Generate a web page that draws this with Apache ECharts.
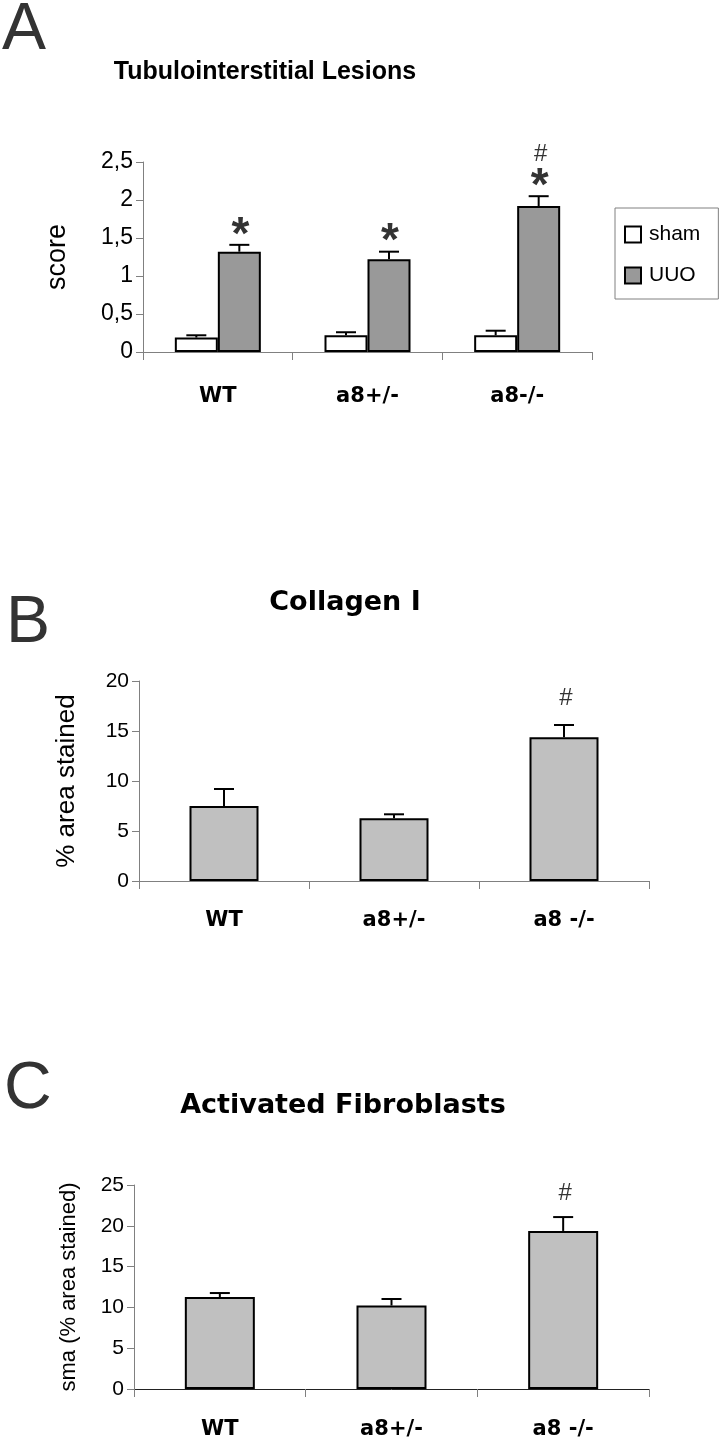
<!DOCTYPE html>
<html>
<head>
<meta charset="utf-8">
<title>Tubulointerstitial lesions, collagen I, activated fibroblasts</title>
<script src="https://cdn.jsdelivr.net/npm/echarts@6/dist/echarts.min.js"></script>
<style>
  html, body { margin: 0; padding: 0; background: #fff; }
  #chart_example { width: 725px; height: 1446px; }
</style>
</head>
<body>
<div id="chart_example"></div>
<script>
// ---- panel A : tubulointerstitial lesion score ----
var groupsA = ['WT', 'a8+/-', 'a8-/-'];
var shamMean = [0.19, 0.22, 0.22];
var shamSem = [0.03, 0.04, 0.06];
var uuoMean = [1.32, 1.22, 1.92];
var uuoSem = [0.09, 0.10, 0.13];
var uuoStar = ['*', '*', '*'];
var uuoHash = ['', '', '#'];
var ticksA = [0, 0.5, 1, 1.5, 2, 2.5];

// ---- panel B : collagen I ----
var groupsB = ['WT', 'a8+/-', 'a8 -/-'];
var collMean = [7.5, 6.27, 14.37];
var collSem = [1.7, 0.4, 1.23];
var collHash = ['', '', '#'];
var ticksB = [0, 5, 10, 15, 20];

// ---- panel C : activated fibroblasts ----
var groupsC = ['WT', 'a8+/-', 'a8 -/-'];
var smaMean = [11.26, 10.23, 19.37];
var smaSem = [0.5, 0.8, 1.7];
var smaHash = ['', '', '#'];
var ticksC = [0, 5, 10, 15, 20, 25];

var AXIS_GREY = '#808080';
var SANS = 'Liberation Sans, Arial, sans-serif';
var WIDE = 'DejaVu Sans, Verdana, sans-serif';

function xAxisFor(idx, cats, margin, lineColor) {
  return {
    type: 'category', gridIndex: idx, data: cats, boundaryGap: true,
    axisLine: { lineStyle: { color: lineColor, width: 1 } },
    axisTick: { show: true, length: 8, lineStyle: { color: AXIS_GREY } },
    axisLabel: { color: '#000', fontFamily: WIDE, fontWeight: 'bold', fontSize: 21, margin: margin }
  };
}

function yAxisFor(idx, ticks, labelSize, name, nameGap, nameSize, comma) {
  return {
    type: 'value', gridIndex: idx,
    min: ticks[0], max: ticks[ticks.length - 1], interval: ticks[1] - ticks[0],
    axisLine: { show: true, lineStyle: { color: AXIS_GREY, width: 1 } },
    axisTick: { show: true, length: 7, lineStyle: { color: AXIS_GREY } },
    splitLine: { show: false },
    axisLabel: {
      color: '#000', fontFamily: SANS, fontSize: labelSize, margin: 10,
      formatter: function (v) { return comma ? String(v).replace('.', ',') : String(v); }
    },
    name: name, nameLocation: 'middle', nameGap: nameGap,
    nameTextStyle: { color: '#000', fontFamily: SANS, fontSize: nameSize }
  };
}

// error bar (upper half only) + significance marks, drawn through the axis scales
function errorBars(idx, means, sems, offset, stars, hashes, hashGap) {
  return {
    type: 'custom', xAxisIndex: idx, yAxisIndex: idx, z: 10, silent: true,
    data: means.map(function (m, i) { return [i, m, sems[i]]; }),
    encode: { x: 0, y: 1 },
    renderItem: function (params, api) {
      var i = api.value(0), m = api.value(1), s = api.value(2);
      var base = api.coord([i, m]);
      var top = api.coord([i, m + s]);
      var x = base[0] + offset;
      var kids = [
        { type: 'line', shape: { x1: x, y1: base[1], x2: x, y2: top[1] }, style: { stroke: '#000', lineWidth: 2 } },
        { type: 'line', shape: { x1: x - 10, y1: top[1], x2: x + 10, y2: top[1] }, style: { stroke: '#000', lineWidth: 2 } }
      ];
      var k = params.dataIndex;
      if (stars && stars[k]) {
        kids.push({ type: 'text', style: { text: stars[k], x: x + 1, y: top[1] - 9, fill: '#333',
          font: 'bold 46px ' + SANS, align: 'center', verticalAlign: 'middle' } });
      }
      if (hashes && hashes[k]) {
        kids.push({ type: 'text', style: { text: hashes[k], x: x + 2, y: top[1] - hashGap, fill: '#333',
          font: '24px ' + SANS, align: 'center', verticalAlign: 'middle' } });
      }
      return { type: 'group', children: kids };
    }
  };
}

function panelLetter(t, x, y) {
  return { type: 'text', left: x, top: y, style: { text: t, fill: '#333', font: '66px ' + SANS } };
}
function panelTitle(t, cx, cy, fam, size) {
  return { type: 'text', x: cx, y: cy, style: { text: t, fill: '#000', font: 'bold ' + size + 'px ' + fam,
    align: 'center', verticalAlign: 'middle' } };
}

var option = {
  backgroundColor: '#fff',
  animation: false,
  graphic: [
    panelLetter('A', 2, -2),
    panelLetter('B', 6, 591),
    panelLetter('C', 4, 1057),
    panelTitle('Tubulointerstitial Lesions', 265, 72, SANS, 25),
    panelTitle('Collagen I', 345, 603, WIDE, 27),
    panelTitle('Activated Fibroblasts', 343, 1106, WIDE, 27)
  ],
  legend: {
    orient: 'vertical', left: 615, top: 208,
    data: ['sham', 'UUO'],
    itemWidth: 16, itemHeight: 16, itemGap: 20,
    icon: 'rect',
    borderColor: AXIS_GREY, borderWidth: 1,
    padding: [16, 18, 13, 9],
    textStyle: { color: '#000', fontFamily: SANS, fontSize: 21, padding: [0, 0, 0, 3] }
  },
  grid: [
    { left: 143, top: 162, width: 449, height: 190 },
    { left: 139, top: 681, width: 510, height: 200 },
    { left: 134, top: 1185, width: 515, height: 204 }
  ],
  xAxis: [
    xAxisFor(0, groupsA, 34, AXIS_GREY),
    xAxisFor(1, groupsB, 29, AXIS_GREY),
    xAxisFor(2, groupsC, 30, '#222')
  ],
  yAxis: [
    yAxisFor(0, ticksA, 23, 'score', 72, 27, true),
    yAxisFor(1, ticksB, 21, '% area stained', 59, 26, false),
    yAxisFor(2, ticksC, 21, 'sma (% area stained)', 54, 22, false)
  ],
  series: [
    { name: 'sham', type: 'bar', xAxisIndex: 0, yAxisIndex: 0, data: shamMean, barWidth: 43, barGap: '0%',
      itemStyle: { color: '#fff', borderColor: '#000', borderWidth: 2 } },
    { name: 'UUO', type: 'bar', xAxisIndex: 0, yAxisIndex: 0, data: uuoMean, barWidth: 43, barGap: '0%',
      itemStyle: { color: '#999', borderColor: '#000', borderWidth: 2 } },
    errorBars(0, shamMean, shamSem, -21.5, null, null, 0),
    errorBars(0, uuoMean, uuoSem, 21.5, uuoStar, uuoHash, 42),

    { name: 'collagen', type: 'bar', xAxisIndex: 1, yAxisIndex: 1, data: collMean, barWidth: 69,
      itemStyle: { color: '#c0c0c0', borderColor: '#000', borderWidth: 2 } },
    errorBars(1, collMean, collSem, 0, null, collHash, 27),

    { name: 'sma', type: 'bar', xAxisIndex: 2, yAxisIndex: 2, data: smaMean, barWidth: 70,
      itemStyle: { color: '#c0c0c0', borderColor: '#000', borderWidth: 2 } },
    errorBars(2, smaMean, smaSem, 0, null, smaHash, 24)
  ]
};

var myChart = echarts.init(document.getElementById('chart_example'));
myChart.setOption(option);
window.addEventListener('resize', function () { myChart.resize(); });
</script>
</body>
</html>
